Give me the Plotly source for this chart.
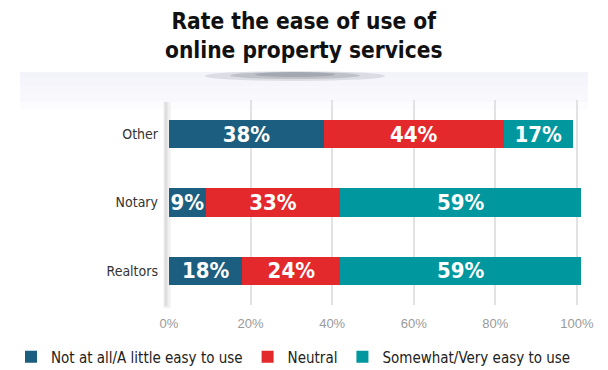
import plotly.graph_objects as go

# Survey: ease of use of online property services
categories = ["Other", "Notary", "Realtors"]
not_easy = [38, 9, 18]
neutral = [44, 33, 24]
easy = [17, 59, 59]
series_names = ["Not at all/A little easy to use", "Neutral", "Somewhat/Very easy to use"]
series_colors = ["#1b5e7f", "#e3292b", "#00979f"]
tick_vals = [0, 20, 40, 60, 80, 100]
tick_text = ["0%", "20%", "40%", "60%", "80%", "100%"]
title_text = "Rate the ease of use of<br>online property services"

FONT = "DejaVu Sans Condensed, Liberation Sans Narrow, sans-serif"
L, R, T, B, W, H = 169, 27, 100, 65, 608, 370
PW, PH = W - L - R, H - T - B


def px_x(x):
    return (x - L) / PW


def px_y(y):
    return 1 - (y - T) / PH


fig = go.Figure()
for name, vals, color in zip(series_names, [not_easy, neutral, easy], series_colors):
    fig.add_trace(go.Bar(
        y=categories, x=vals, name=name, orientation="h",
        marker=dict(color=color, line=dict(width=0)),
        text=[f"{v}%" for v in vals], textposition="inside",
        insidetextanchor="middle", constraintext="none", textangle=0,
        textfont=dict(family=FONT, size=22, color="white", weight="bold"),
        cliponaxis=False,
    ))

# soft bluish band fading downward below the title
for y_end in [78, 86, 94, 102, 110]:
    fig.add_shape(type="rect", xref="paper", yref="paper",
                  x0=px_x(20), x1=px_x(588), y0=px_y(y_end), y1=px_y(72),
                  fillcolor="#e9eef6", opacity=0.15, line_width=0, layer="below")
# soft shadow under the title
for (x0, x1, y0, y1, op) in [(205, 385, 71, 81, 0.2), (230, 360, 72, 79, 0.3), (255, 335, 72, 77, 0.4)]:
    fig.add_shape(type="circle", xref="paper", yref="paper",
                  x0=px_x(x0), x1=px_x(x1), y0=px_y(y1), y1=px_y(y0),
                  fillcolor="#7d838b", opacity=op, line_width=0, layer="below")
# shaded baseline at 0%
fig.add_shape(type="line", xref="paper", yref="paper", x0=px_x(167), x1=px_x(167),
              y0=px_y(308), y1=px_y(102), line=dict(color="#f0f0f0", width=7), layer="below")
fig.add_shape(type="line", xref="paper", yref="paper", x0=px_x(166), x1=px_x(166),
              y0=px_y(306), y1=px_y(102), line=dict(color="#dedede", width=3), layer="below")

# two-line title
fig.add_annotation(text=f"<b>{title_text}</b>", xref="paper", yref="paper",
                   x=px_x(304), xanchor="center", y=px_y(6), yanchor="top",
                   showarrow=False, align="center",
                   font=dict(family=FONT, size=22.5, color="#111"))

fig.update_layout(
    width=W, height=H,
    margin=dict(l=L, r=R, t=T, b=B, autoexpand=False),
    paper_bgcolor="white", plot_bgcolor="rgba(0,0,0,0)",
    barmode="stack", bargap=0.59,
    xaxis=dict(range=[0, 101], tickvals=tick_vals, ticktext=tick_text,
               showgrid=True, gridcolor="#e2e2e2", gridwidth=1.5, zeroline=False,
               tickfont=dict(family="Liberation Sans, sans-serif", size=13, color="#9a9a9a"),
               ticks="", ticklen=0, ticklabelstandoff=9, fixedrange=True),
    yaxis=dict(autorange="reversed", showgrid=False, zeroline=False, ticks="",
               ticklabelstandoff=10,
               tickfont=dict(family=FONT, size=14, color="#333")),
    legend=dict(orientation="h", x=px_x(11), xanchor="left",
                y=px_y(357), yanchor="middle",
                font=dict(family=FONT, size=15, color="#222"), traceorder="normal",
                itemwidth=30),
    showlegend=True,
)

fig.write_html("out.html")
